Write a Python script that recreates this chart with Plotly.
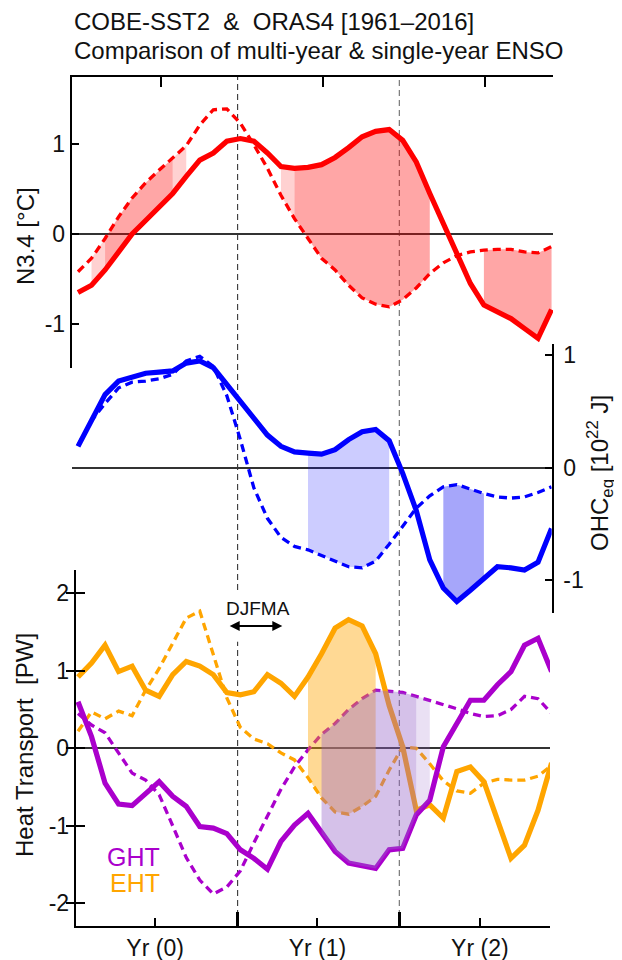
import plotly.graph_objects as go

# ---------------- data (monthly, Jan Yr(0) ... Dec Yr(2)) ----------------
month = list(range(36))

n34_multi = [-0.65, -0.57, -0.40, -0.20, 0.00, 0.15, 0.30, 0.45, 0.64, 0.82, 0.90, 1.03,
             1.06, 1.03, 0.90, 0.75, 0.73, 0.74, 0.77, 0.85, 0.96, 1.08, 1.14, 1.16,
             1.04, 0.80, 0.45, 0.12, -0.23, -0.55, -0.79, -0.86, -0.94, -1.05, -1.16, -0.84]
n34_single = [-0.42, -0.27, -0.05, 0.19, 0.40, 0.57, 0.71, 0.84, 0.98, 1.21, 1.38, 1.39,
              1.23, 0.99, 0.73, 0.43, 0.17, -0.05, -0.27, -0.40, -0.57, -0.71, -0.78, -0.81,
              -0.73, -0.60, -0.44, -0.32, -0.24, -0.20, -0.18, -0.17, -0.17, -0.20, -0.21, -0.14]

ohc_multi = [0.19, 0.43, 0.65, 0.77, 0.81, 0.84, 0.85, 0.86, 0.93, 0.95, 0.89, 0.74,
             0.58, 0.44, 0.29, 0.19, 0.14, 0.13, 0.12, 0.16, 0.25, 0.32, 0.34, 0.24,
             -0.05, -0.38, -0.82, -1.07, -1.19, -1.09, -0.98, -0.88, -0.89, -0.91, -0.84, -0.54]
ohc_single = [0.20, 0.42, 0.57, 0.71, 0.76, 0.77, 0.79, 0.83, 0.95, 0.99, 0.90, 0.64,
              0.25, -0.18, -0.45, -0.62, -0.70, -0.73, -0.78, -0.83, -0.88, -0.89, -0.83, -0.68,
              -0.52, -0.36, -0.25, -0.17, -0.15, -0.19, -0.23, -0.26, -0.27, -0.26, -0.22, -0.17]

ght_multi = [0.60, 0.15, -0.45, -0.72, -0.74, -0.58, -0.43, -0.62, -0.75, -1.01, -1.03, -1.10,
             -1.31, -1.42, -1.56, -1.20, -0.99, -0.84, -1.10, -1.33, -1.48, -1.52, -1.55, -1.31,
             -1.29, -0.86, -0.67, 0.02, 0.32, 0.62, 0.62, 0.82, 0.99, 1.33, 1.42, 0.99]
ght_single = [0.45, 0.30, 0.20, -0.06, -0.32, -0.41, -0.60, -1.00, -1.41, -1.70, -1.88, -1.79,
              -1.58, -1.22, -0.88, -0.53, -0.24, -0.02, 0.18, 0.32, 0.50, 0.64, 0.75, 0.74,
              0.72, 0.67, 0.62, 0.57, 0.51, 0.45, 0.41, 0.42, 0.50, 0.67, 0.64, 0.45]

eht_multi = [0.92, 1.10, 1.33, 0.99, 1.06, 0.75, 0.67, 0.95, 1.12, 1.06, 0.95, 0.72,
             0.69, 0.73, 0.95, 0.84, 0.67, 0.92, 1.22, 1.55, 1.66, 1.58, 1.22, 0.55,
             0.02, -0.80, -0.73, -0.90, -0.30, -0.24, -0.43, -0.93, -1.42, -1.25, -0.80, -0.19]
eht_single = [0.22, 0.47, 0.38, 0.48, 0.42, 0.75, 1.03, 1.35, 1.68, 1.77, 1.22, 0.65,
              0.27, 0.12, 0.06, -0.06, -0.15, -0.38, -0.64, -0.82, -0.85, -0.75, -0.62, -0.28,
              0.02, 0.00, -0.20, -0.42, -0.55, -0.58, -0.45, -0.40, -0.41, -0.41, -0.36, -0.22]

year_labels = ["Yr (0)", "Yr (1)", "Yr (2)"]
year_mid = [5.7, 17.7, 29.7]
year_edges = [11.8, 23.75]
top_ticks = [6.1, 18.1, 30.1]
n34_ticks = [-1, 0, 1]
ohc_ticks = [-1, 0, 1]
ht_ticks = [-2, -1, 0, 1, 2]

# significant windows: (first month index, last month index, level)
n34_sig = [(1, 2, 90), (2, 7, 95), (7, 8, 90), (15, 16, 90), (16, 26, 95), (30, 35, 95)]
ohc_sig = [(17, 23, 90), (27, 30, 95)]
eht_sig = [(17, 22, 95)]
ght_sig = [(18, 25, 95), (25, 26, 90)]

# ---------------- geometry helpers (page pixel -> paper / axis) ----------------
OFF = 8                      # default body margin of the html page
W, H = 622 - OFF, 960 - OFF
def px(p):
    return (p - OFF) / W
def py(p):
    return (960 - p) / H
def mx(p):
    return (p - 78) / 13.53

def labels(vals):
    return [str(v) for v in vals]   # plain hyphen minus like the original

FONT = "Liberation Sans, Arial, sans-serif"

RED, BLUE, ORANGE, PURPLE = "#FF0000", "#0000FF", "#FFA500", "#AA00CC"
fills = {
    "n34": {95: "rgba(255,0,0,0.35)", 90: "rgba(255,0,0,0.18)"},
    "ohc": {95: "rgba(0,0,240,0.35)", 90: "rgba(0,0,255,0.20)"},
    "eht": {95: "rgba(255,165,0,0.42)"},
    "ght": {95: "rgba(150,100,200,0.40)", 90: "rgba(150,100,200,0.20)"},
}

fig = go.Figure()

def line(y, color, dashed, xa, ya):
    fig.add_trace(go.Scatter(
        x=month, y=y, mode="lines", xaxis=xa, yaxis=ya, showlegend=False,
        hoverinfo="skip",
        line=dict(color=color, width=3.3 if dashed else 5.2,
                  dash="8px,5px" if dashed else "solid")))

def band(upper, lower, windows, key, xa, ya):
    for a, b, lev in windows:
        xs = month[a:b + 1] + month[a:b + 1][::-1]
        ys = upper[a:b + 1] + lower[a:b + 1][::-1]
        fig.add_trace(go.Scatter(
            x=xs, y=ys, mode="lines", fill="toself", fillcolor=fills[key][lev],
            line=dict(width=0), xaxis=xa, yaxis=ya, showlegend=False, hoverinfo="skip"))

# top panel (N3.4): x3 / y3
line(n34_single, RED, True, "x3", "y3")
line(n34_multi, RED, False, "x3", "y3")
band(n34_multi, n34_single, n34_sig, "n34", "x3", "y3")

# middle panel (OHC): x2 / y2
line(ohc_single, BLUE, True, "x2", "y2")
line(ohc_multi, BLUE, False, "x2", "y2")
band(ohc_multi, ohc_single, ohc_sig, "ohc", "x2", "y2")

# bottom panel (heat transport): x / y
line(eht_single, ORANGE, True, "x", "y")
line(ght_single, PURPLE, True, "x", "y")
line(eht_multi, ORANGE, False, "x", "y")
line(ght_multi, PURPLE, False, "x", "y")
band(eht_multi, eht_single, eht_sig, "eht", "x", "y")
band(ght_single, ght_multi, ght_sig, "ght", "x", "y")
fig.add_trace(go.Scatter(x=[None], y=[None], xaxis="x", yaxis="y4", showlegend=False))

tickfont = dict(family=FONT, size=23, color="#111")
common = dict(showgrid=False, linecolor="black", tickcolor="black", tickfont=tickfont,
              automargin=False)

fig.update_layout(
    template="none",
    width=W, height=H, margin=dict(l=0, r=0, t=0, b=0, pad=0),
    paper_bgcolor="white", plot_bgcolor="rgba(0,0,0,0)",
    font=dict(family=FONT, color="#111"),
    xaxis=dict(domain=[px(75.7), px(550)], range=[mx(75.7), mx(550)], anchor="y",
               showline=True, linewidth=2, zeroline=False,
               ticks="inside", tickvals=year_mid, ticktext=year_labels,
               ticklen=8, tickwidth=1.5, ticklabelstandoff=0,
               minor=dict(tickmode="array", tickvals=year_edges, ticks="inside",
                          ticklen=14, tickwidth=2.5, tickcolor="black", showgrid=False),
               **common),
    yaxis=dict(domain=[py(926), py(570)], range=[-2.2929, 2.3006], anchor="x",
               showline=True, linewidth=2, ticks="inside", ticklen=9, tickwidth=1.5,
               tickvals=ht_ticks, ticktext=labels(ht_ticks), ticklabelstandoff=0,
               zeroline=True, zerolinecolor="#333", zerolinewidth=1.5, **common),
    yaxis4=dict(overlaying="y", anchor="x", side="left", range=[-2.2929, 2.3006],
                ticks="outside", ticklen=9, tickwidth=1.5, tickvals=ht_ticks,
                showticklabels=False, showline=False, zeroline=False, showgrid=False,
                tickcolor="black", automargin=False),
    xaxis2=dict(domain=[px(71.7), px(551.7)], range=[mx(71.7), mx(551.7)], anchor="y2",
                visible=False, automargin=False),
    yaxis2=dict(domain=[py(613), py(344)], range=[-1.2916, 1.0996], anchor="x2",
                side="right", showline=True, linewidth=2, ticks="inside", ticklen=7,
                tickwidth=1.5, tickvals=ohc_ticks, ticktext=labels(ohc_ticks),
                ticklabelstandoff=5,
                zeroline=True, zerolinecolor="#333", zerolinewidth=1.5, **common),
    xaxis3=dict(domain=[px(71.7), px(553)], range=[mx(71.7), mx(553)], anchor="y3",
                side="top", showline=True, linewidth=2, ticks="inside", ticklen=10,
                tickwidth=1.5, tickvals=top_ticks, showticklabels=False, zeroline=False,
                **common),
    yaxis3=dict(domain=[py(368), py(77)], range=[-1.489, 1.744], anchor="x3",
                showline=True, linewidth=2, ticks="inside", ticklen=7, tickwidth=1.5,
                tickvals=n34_ticks, ticktext=labels(n34_ticks), ticklabelstandoff=0,
                zeroline=True, zerolinecolor="#333", zerolinewidth=1.5, **common),
)

# year boundary lines
fig.add_shape(type="line", xref="x", yref="paper", x0=year_edges[0], x1=year_edges[0],
              y0=py(590), y1=py(77), line=dict(color="#222", width=1, dash="6px,4px"),
              layer="below")
fig.add_shape(type="line", xref="x", yref="y", x0=year_edges[0], x1=year_edges[0],
              y0=-2.2929, y1=1.375, line=dict(color="#222", width=1, dash="6px,4px"),
              layer="below")
fig.add_shape(type="line", xref="x", yref="paper", x0=year_edges[1], x1=year_edges[1],
              y0=py(926), y1=py(77), line=dict(color="#777", width=1.2, dash="6px,4px"),
              layer="below")

txt = dict(family=FONT, color="#111")
ann = []
ann.append(dict(text="COBE-SST2\u00a0\u00a0&\u00a0\u00a0ORAS4 [1961–2016]", x=px(72), y=py(22),
                xref="paper", yref="paper", xanchor="left", yanchor="middle",
                showarrow=False, font=dict(size=24, **txt)))
ann.append(dict(text="Comparison of multi-year & single-year ENSO", x=px(72), y=py(51),
                xref="paper", yref="paper", xanchor="left", yanchor="middle",
                showarrow=False, font=dict(size=24, **txt)))
ann.append(dict(text="N3.4 [°C]", x=px(25), y=py(236), xref="paper", yref="paper",
                xanchor="center", yanchor="middle", textangle=-90, showarrow=False,
                font=dict(size=24, **txt)))
ann.append(dict(text="OHC<sub>eq</sub> [10<sup>22</sup> J]", x=px(600), y=py(473),
                xref="paper", yref="paper", xanchor="center", yanchor="middle",
                textangle=-90, showarrow=False, font=dict(size=24, **txt)))
ann.append(dict(text="Heat Transport\u00a0\u00a0[PW]", x=px(24), y=py(745), xref="paper",
                yref="paper", xanchor="center", yanchor="middle", textangle=-90,
                showarrow=False, font=dict(size=24, **txt)))
ann.append(dict(text="GHT", x=px(162), y=py(857), xref="paper", yref="paper",
                xanchor="right", yanchor="middle", showarrow=False,
                font=dict(size=25, family=FONT, color=PURPLE)))
ann.append(dict(text="EHT", x=px(162), y=py(883), xref="paper", yref="paper",
                xanchor="right", yanchor="middle", showarrow=False,
                font=dict(size=25, family=FONT, color=ORANGE)))
ann.append(dict(text="DJFMA", x=13.28, y=1.80, xref="x", yref="y", showarrow=False,
                xanchor="center", yanchor="middle", font=dict(size=19, **txt)))
ann.append(dict(text="", x=15.1, y=1.578, ax=11.1, ay=1.578, xref="x", yref="y",
                axref="x", ayref="y", showarrow=True, arrowhead=2, startarrowhead=2,
                arrowside="end+start", arrowwidth=2, arrowsize=1, arrowcolor="black",
                standoff=0, startstandoff=0))
fig.update_layout(annotations=ann)

fig.write_html("out.html")
